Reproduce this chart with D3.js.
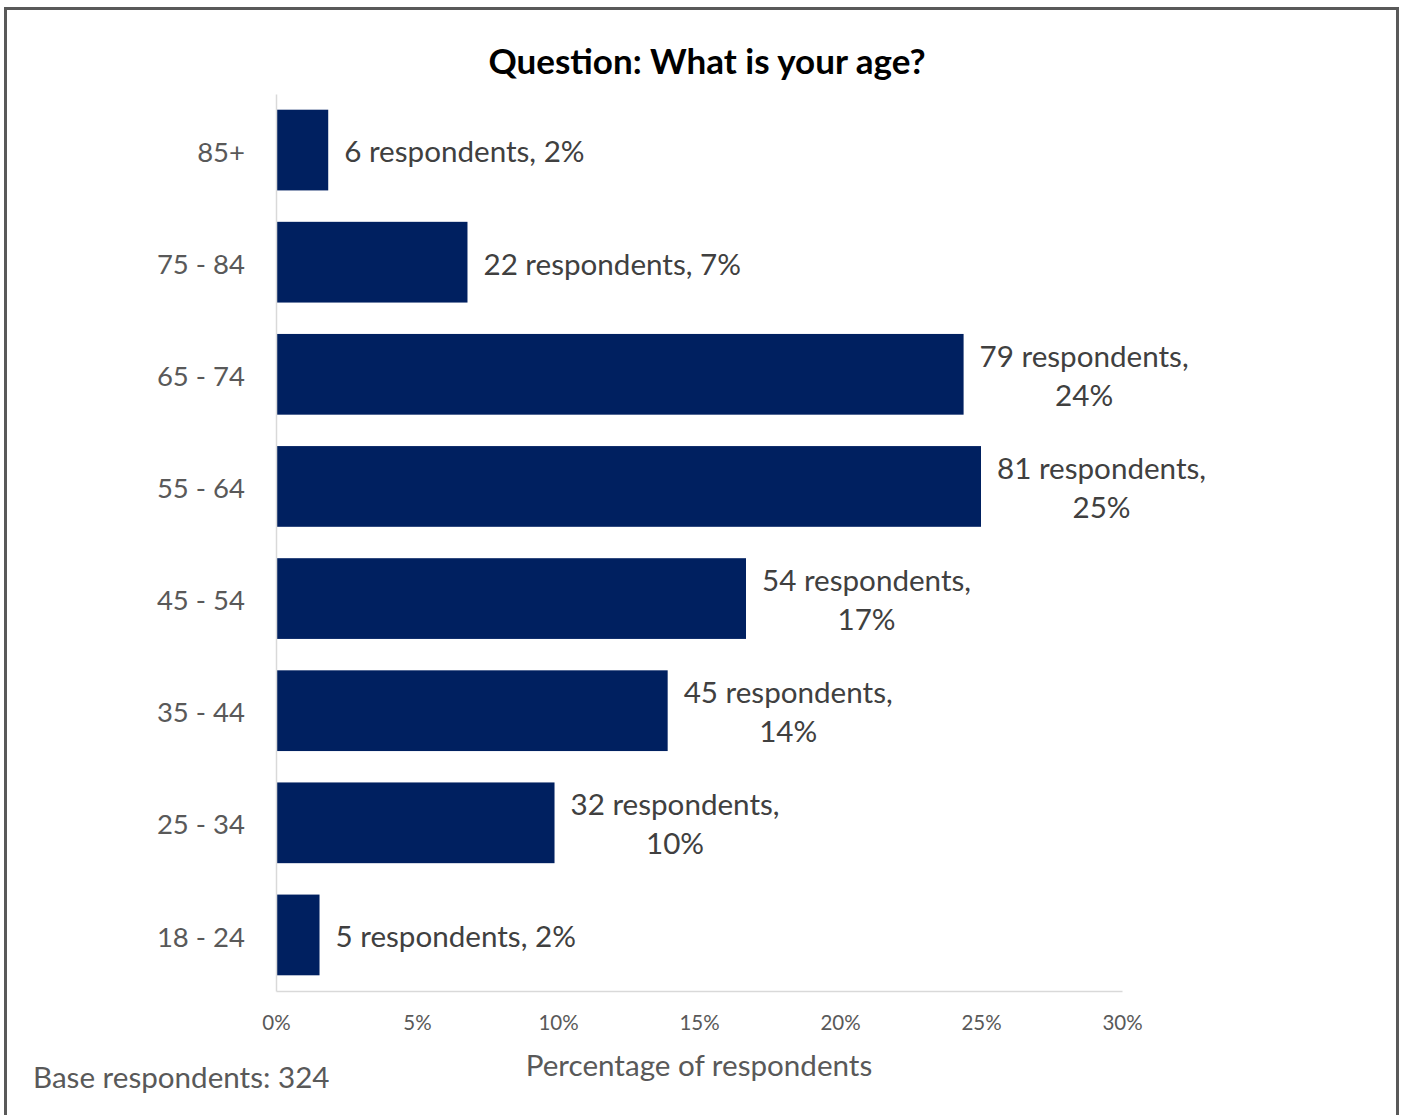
<!DOCTYPE html>
<html>
<head>
<meta charset="utf-8">
<script src="https://cdn.jsdelivr.net/npm/d3@7"></script>
<style>
  html, body { margin: 0; padding: 0; background: #fff; }
  svg { display: block; font-family: Lato, "Open Sans", sans-serif; }
</style>
</head>
<body>
<svg id="chart" width="1403" height="1115"></svg>
<script>
const title = "Question: What is your age?";
const categories = ["85+", "75 - 84", "65 - 74", "55 - 64", "45 - 54", "35 - 44", "25 - 34", "18 - 24"];
const respondents = [6, 22, 79, 81, 54, 45, 32, 5];
const baseRespondents = 324;
const xTicks = [0, 0.05, 0.10, 0.15, 0.20, 0.25, 0.30];
const xAxisTitle = "Percentage of respondents";
const baseLabel = "Base respondents: " + baseRespondents;

(function () {
const data = categories.map((c, i) => ({
  cat: c, n: respondents[i], pct: respondents[i] / baseRespondents
}));

const svg = d3.select("#chart");
const FS = 29.6;

// outer frame
svg.append("rect").attr("x", 5.5).attr("y", 8.5).attr("width", 1392).attr("height", 1120)
  .attr("fill", "#fff").attr("stroke", "#595959").attr("stroke-width", 3);

const pLeft = 276, pRight = 1122, pTop = 94, pBottom = 991;

const x = d3.scaleLinear().domain([0, 0.30]).range([pLeft, pRight]);
const y = d3.scaleBand().domain(categories).range([pTop, pBottom])
  .paddingInner(0.28).paddingOuter(0.14);

// title
svg.append("text").attr("x", 707).attr("y", 62).attr("dy", "0.35em")
  .attr("text-anchor", "middle").attr("font-weight", "bold").attr("font-size", 35)
  .attr("fill", "#000").text(title);

// bars
svg.append("g").selectAll("rect").data(data).join("rect")
  .attr("x", x(0)).attr("y", d => y(d.cat))
  .attr("width", d => x(d.pct) - x(0)).attr("height", y.bandwidth())
  .attr("fill", "#002060");

// axes
const yAxis = svg.append("g").attr("transform", `translate(${pLeft},0)`)
  .call(d3.axisLeft(y).tickSize(0).tickPadding(31));
yAxis.select(".domain").attr("stroke", "#d9d9d9").attr("stroke-width", 1.5);
yAxis.selectAll("text").attr("font-size", 27.5).attr("fill", "#595959").attr("dy", "0.42em")
  .attr("font-family", "Lato, 'Open Sans', sans-serif");

const xAxis = svg.append("g").attr("transform", `translate(0,${pBottom})`)
  .call(d3.axisBottom(x).tickValues(xTicks).tickFormat(d3.format(".0%")).tickSize(0).tickPadding(24));
xAxis.select(".domain").attr("stroke", "#d9d9d9").attr("stroke-width", 1.5);
xAxis.selectAll("text").attr("font-size", 20.5).attr("fill", "#595959")
  .attr("font-family", "Lato, 'Open Sans', sans-serif");

// data labels
const labels = svg.append("g").selectAll("g").data(data).join("g");
labels.each(function(d) {
  const g = d3.select(this);
  const pctText = Math.round(d.pct * 100) + "%";
  const cy = y(d.cat) + y.bandwidth() / 2;
  const x0 = x(d.pct) + 16;
  const wrap = d.pct >= 0.09;
  if (!wrap) {
    g.append("text").attr("x", x0).attr("y", cy).attr("dy", "0.42em")
      .attr("font-size", FS).attr("fill", "#404040")
      .text(`${d.n} respondents, ${pctText}`);
  } else {
    const t1 = g.append("text").attr("x", x0).attr("y", cy - 19.5).attr("dy", "0.4em")
      .attr("font-size", FS).attr("fill", "#404040")
      .text(`${d.n} respondents,`);
    const w = t1.node().getComputedTextLength();
    g.append("text").attr("x", x0 + w / 2).attr("y", cy + 19.5).attr("dy", "0.4em")
      .attr("text-anchor", "middle").attr("font-size", FS).attr("fill", "#404040")
      .text(pctText);
  }
});

// axis title
svg.append("text").attr("x", (pLeft + pRight) / 2).attr("y", 1065).attr("dy", "0.38em")
  .attr("text-anchor", "middle").attr("font-size", FS).attr("fill", "#595959")
  .text(xAxisTitle);

// base label
svg.append("text").attr("x", 33).attr("y", 1077).attr("dy", "0.38em")
  .attr("font-size", FS).attr("fill", "#595959").text(baseLabel);
})();
</script>
</body>
</html>
